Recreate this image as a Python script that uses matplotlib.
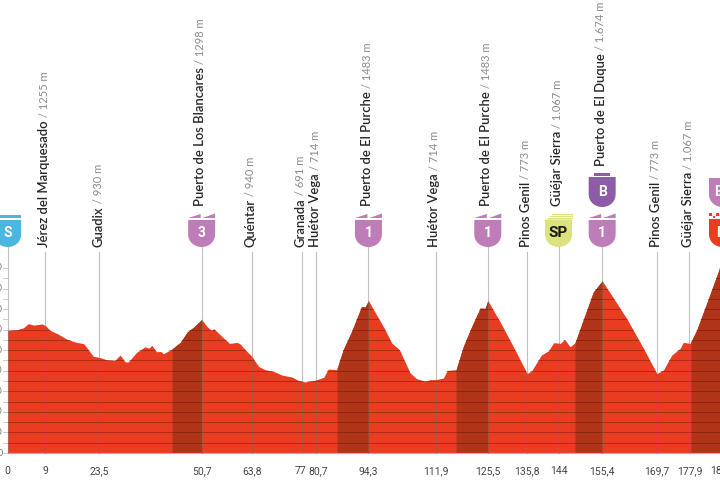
import numpy as np
import matplotlib
matplotlib.use("Agg")
import matplotlib.pyplot as plt
from matplotlib.patches import PathPatch, Polygon, Rectangle
from matplotlib.path import Path

km = [0, 2.4, 4.1, 5.4, 6.8, 9, 9.9, 11.1, 13.2, 15.4, 17.6, 19.9, 21.1, 22.4, 24,
      25.9, 28, 29.4, 30.7, 31.5, 33.7, 35.9, 36.9, 37.7, 38.9, 40, 40.7, 42.9, 45.1,
      47, 48.6, 50.7, 52.1, 53.2, 53.9, 56, 58, 59.9, 60.7,
      62.1, 63.8, 65.6, 67.3, 69.5, 71.7, 74.3, 76, 77.7, 80.4, 82.6, 83.8, 86,
      87.7, 89.9, 92.5, 93.4, 94.3, 96.4, 98.2, 100.4, 102.4, 105.2, 106.9, 109.1,
      110.4, 111.9, 113.9, 114.9, 117.2, 119.1, 121.3, 123.5,
      124.8, 125.5, 128.7, 132.2, 135.8, 137, 139.5, 141.4, 142.7, 144.5, 145.6,
      147, 148.3, 150.9, 153.1, 155.4, 157.4, 161.8, 166.2, 169.7, 171.4, 173.6, 175.8,
      176.6, 178.4, 180.1, 182.7, 186.2]
elevation = [1193, 1199, 1218, 1258, 1244, 1255, 1238, 1193, 1157, 1108, 1080, 1063, 1005, 940, 930,
             907, 901, 953, 887, 885, 979, 1033, 1020, 1047, 985, 988, 965, 1011, 1076,
             1180, 1224, 1298, 1231, 1193, 1209, 1134, 1066, 1076, 1063,
             1005, 940, 842, 810, 794, 758, 739, 706, 691, 709, 736, 817, 810,
             1005, 1183, 1426, 1419, 1483, 1345, 1231, 1070, 1005, 778, 723, 700,
             713, 714, 729, 804, 810, 1037, 1231, 1410,
             1407, 1483, 1277, 1033, 773, 801, 953, 995, 1073, 1067, 1105,
             1033, 1073, 1342, 1568, 1674, 1562, 1309, 1018, 773, 807, 953, 1018,
             1076, 1067, 1196, 1455, 1811]

climbs = [(43, 50.7), (86.1, 94.3), (117.2, 125.5), (148.3, 155.4), (178.6, 186.2)]

# where the marks sit along the axis; the first two are drawn a little off their printed km
tick_km = [0, 9.85, 24, 50.7, 63.8, 76.6, 81.1, 94.3, 111.9, 125.5, 135.8, 144, 155.4, 169.7, 178.2, 186]
tick_labels = ["0", "9", "23,5", "50,7", "63,8", "77", "80,7", "94,3", "111,9", "125,5",
               "135,8", "144", "155,4", "169,7", "177,9", "186"]

places = ["Jérez del Marquesado", "Guadix", "Puerto de Los Blancares", "Quéntar", "Granada",
          "Huétor Vega", "Puerto de El Purche", "Huétor Vega", "Puerto de El Purche",
          "Pinos Genil", "Güéjar Sierra", "Puerto de El Duque", "Pinos Genil", "Güéjar Sierra"]
place_km = [9.85, 24, 50.7, 63.8, 77, 80.7, 94.3, 111.9, 125.5, 135.8, 144, 155.4, 169.7, 178.2]
place_m = ["1255", "930", "1298", "940", "691", "714", "1483", "714", "1483", "773", "1.067",
           "1.674", "773", "1.067"]
place_bottom = [247, 247, 206, 247, 247, 247, 206, 247, 206, 247, 206, 166, 247, 247]
line_top = [252, 252, 247, 252, 252, 252, 247, 252, 247, 252, 247, 247, 252, 252]

RED = "#E93D22"
DARK = "#B03418"
PURPLE = "#BE7DB8"

fig = plt.figure(figsize=(7.2, 4.8), dpi=100)
ax = fig.add_axes([0, 0, 1, 1])
ax.set_xlim(-2.005, 186.2)
ax.set_ylim(-262.6, 4406.6)
ax.axis("off")

deco = fig.add_axes([0, 0, 1, 1], zorder=5)
deco.set_xlim(0, 720)
deco.set_ylim(480, 0)
deco.axis("off")
deco.patch.set_alpha(0)


def px(k):
    return ax.transData.transform((k, 0))[0]


ax.fill_between(km, 0, elevation, color=RED, lw=0, zorder=2)
for start, end in climbs:
    xs = [start] + [k for k in km if start < k < end] + [end]
    ax.fill_between(xs, 0, np.interp(xs, km, elevation), color=DARK, lw=0, zorder=2.5)

# grid only shows inside the profile
clip = Polygon(np.column_stack([[0] + km + [km[-1]], [0] + elevation + [0]]),
               transform=ax.transData, fc="none", ec="none")
ax.add_patch(clip)
for m in range(100, 1900, 100):
    ln = ax.axhline(m, color="#5a1208", lw=0.6, alpha=0.5, zorder=3)
    ln.set_clip_path(clip)

ax.plot([0, 186.2], [0, 0], color="#b9b2ad", lw=0.8, zorder=3)

# y ticks are cut by the left edge of the picture
for m in range(0, 1900, 100):
    ypx = 453 - m * 0.1028
    deco.plot([3.2, 6.5], [ypx, ypx], color="#c4c4c4", lw=0.6)
    if m % 200 == 0:
        deco.text(2.6, ypx, str(m), ha="right", va="center", fontsize=6.5, color="#777777",
                  family="Lato", clip_on=False)

# vertical guides
for k, top in zip(place_km, line_top):
    deco.plot([px(k), px(k)], [top, 453], color="#6b6b6b", lw=0.8, alpha=0.42)
deco.plot([px(0), px(0)], [247, 453], color="#6b6b6b", lw=0.8, alpha=0.42)

for k, lab in zip(tick_km, tick_labels):
    deco.text(px(k), 471, lab, ha="center", va="center", fontsize=7.5, color="#444444",
              family="Roboto")

# place names, elevation in lighter type on top of them
for name, k, m, bottom in zip(places, place_km, place_m, place_bottom):
    t = deco.text(px(k) - 1.3, bottom, name, rotation=90, ha="center", va="bottom", fontsize=9.4,
                  color="#262626", family="Lato", fontweight="semibold")
    deco.annotate(" / " + m + " m", xy=(0.5, 1), xycoords=t, rotation=90, ha="center", va="bottom",
                  fontsize=8, color="#8a8a8a", family="Lato")


def shield(cx, top, bottom, color, half=13.5):
    verts = [(cx - half, top), (cx + half, top), (cx + half, bottom - 13),
             (cx + half, bottom - 4), (cx + 6, bottom), (cx, bottom),
             (cx - 6, bottom), (cx - half, bottom - 4), (cx - half, bottom - 13),
             (cx - half, top)]
    codes = [Path.MOVETO, Path.LINETO, Path.LINETO, Path.CURVE4, Path.CURVE4, Path.CURVE4,
             Path.CURVE4, Path.CURVE4, Path.CURVE4, Path.CLOSEPOLY]
    deco.add_patch(PathPatch(Path(verts, codes), fc=color, ec="none", clip_on=True))


def wedges(cx, color):
    deco.add_patch(Polygon([(cx - 13.5, 218), (cx - 1, 214), (cx - 1, 218)], fc=color, ec="none"))
    deco.add_patch(Polygon([(cx + 1, 218), (cx + 13.5, 213.5), (cx + 13.5, 218)], fc=color, ec="none"))


def badge_text(cx, y, s, color="white", size=10):
    deco.text(cx, y, s, ha="center", va="center", fontsize=size, color=color,
              family="Roboto", fontweight="bold")


# start
cx = px(0)
shield(cx, 220, 247, "#4DB6DE")
deco.add_patch(Polygon([(cx - 13.5, 215), (cx + 13.5, 215), (cx + 13.5, 218), (cx - 13.5, 218)],
                       fc="#4DB6DE", ec="none"))
badge_text(cx, 233, "S")

for k, s in [(50.7, "3"), (94.3, "1"), (125.5, "1"), (155.4, "1")]:
    cx = px(k)
    wedges(cx, PURPLE)
    shield(cx, 220, 247, PURPLE)
    badge_text(cx, 233, s)

# sprint
cx = px(144)
for y in (214, 216, 218):
    deco.plot([cx - 11 + (218 - y) * 1.2, cx + 13.5], [y, y], color="#DCE27F", lw=0.9)
shield(cx, 219.5, 247, "#DCE27F")
badge_text(cx, 233, "SP", color="#1a1a1a", size=11)

# bonus
cx = px(155.4)
deco.add_patch(Rectangle((cx - 8, 173), 16, 3, fc="#8C5CA6", ec="none"))
shield(cx, 177, 207, "#8C5CA6")
badge_text(cx, 192, "B")

# finish
cx = 722.5
shield(cx, 178, 207, PURPLE)
badge_text(cx, 192, "ES")
for i in range(4):
    deco.add_patch(Rectangle((cx - 13.5 + i * 3.6, 213 + (i % 2) * 2.6), 2.6, 2.6, fc=RED, ec="none"))
shield(cx, 219, 247, RED)
badge_text(cx, 233, "M")

fig.savefig("out.png", dpi=100)
